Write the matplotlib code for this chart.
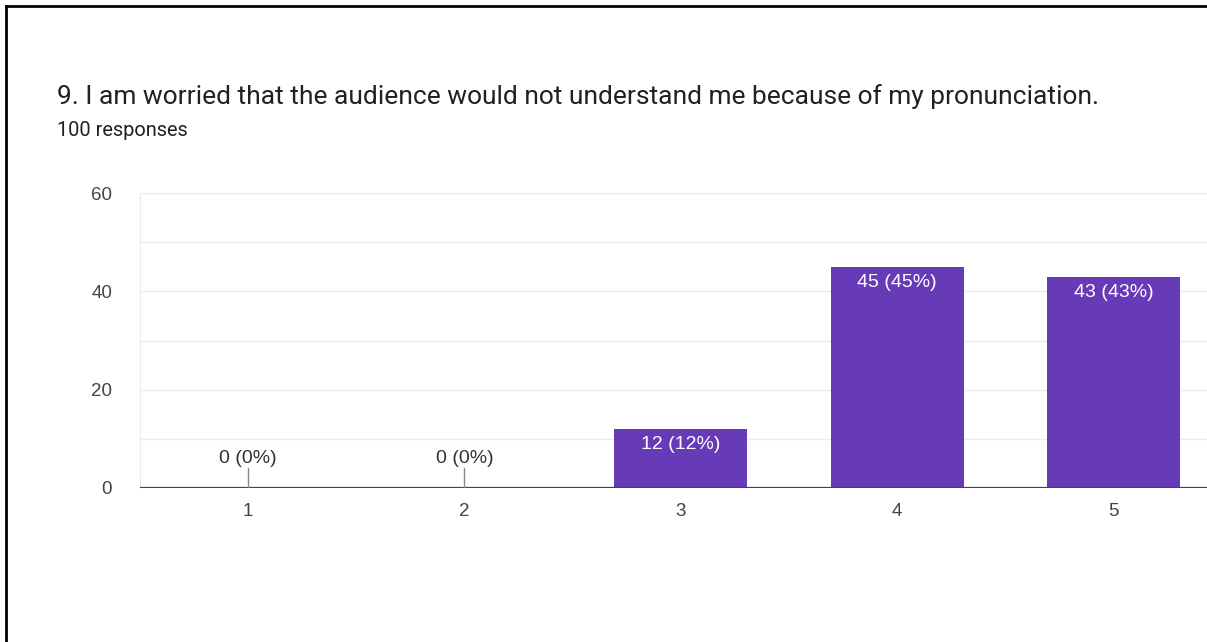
import matplotlib.pyplot as plt
from matplotlib.lines import Line2D

# Survey answers for question 9
categories = ['1', '2', '3', '4', '5']
counts = [0, 0, 12, 45, 43]
total = 100

title = "9. I am worried that the audience would not understand me because of my pronunciation."
subtitle = f"{total} responses"

plt.rcParams['font.family'] = ['Liberation Sans', 'DejaVu Sans']
head_font = ['Roboto', 'DejaVu Sans']

W, H = 1207, 642
fig = plt.figure(figsize=(W / 100, H / 100), dpi=100)

# axes placed in pixel units: left 140, y=0 at 488, y=60 at 193, running off the right edge
ax = fig.add_axes([140 / W, 1 - 488 / H, 1 - 140 / W, (488 - 193) / H])

x = list(range(1, len(categories) + 1))
ax.bar(x, counts, width=0.615, color='#673ab7', zorder=3)

ax.set_xlim(0.5, 0.5 + (W - 140) / 216.3)
ax.set_ylim(0, 60)
ax.set_yticks([0, 20, 40, 60])
ax.set_yticks([10, 30, 50], minor=True)
ax.grid(axis='y', which='both', color='#ebebeb', linewidth=1, zorder=0)
ax.set_xticks(x, categories)

for s in ['top', 'right', 'bottom']:
    ax.spines[s].set_visible(False)
ax.spines['left'].set_color('#ebebeb')
ax.axhline(0, color='#444444', linewidth=1.6, zorder=4)
ax.tick_params(axis='both', length=0, labelsize=13.5, labelcolor='#444444')
ax.tick_params(axis='y', which='minor', length=0)
ax.tick_params(axis='x', pad=11)
ax.tick_params(axis='y', pad=20)

# value labels
for xi, c in zip(x, counts):
    label = f"{c} ({round(100 * c / total)}%)"
    if c == 0:
        ax.plot([xi, xi], [0, 4], color='#888888', linewidth=1, zorder=4)
        ax.text(xi, 4.2, label, ha='center', va='bottom', fontsize=14, color='#333333')
    else:
        ax.text(xi, c - 1.5, label, ha='center', va='top', fontsize=14, color='white', zorder=5)

fig.text(57 / W, 1 - 97 / H, title, ha='left', va='center', fontsize=19,
         color='#202124', family=head_font)
fig.text(57 / W, 1 - 130 / H, subtitle, ha='left', va='center', fontsize=14.4,
         color='#202124', family=head_font)

# screenshot frame (left and top edges)
fig.add_artist(Line2D([5.5 / W, 5.5 / W], [0, 1 - 5.5 / H], color='black', linewidth=2))
fig.add_artist(Line2D([5.5 / W, 1], [1 - 5.5 / H, 1 - 5.5 / H], color='black', linewidth=2))

fig.savefig('out.png', dpi=100)
